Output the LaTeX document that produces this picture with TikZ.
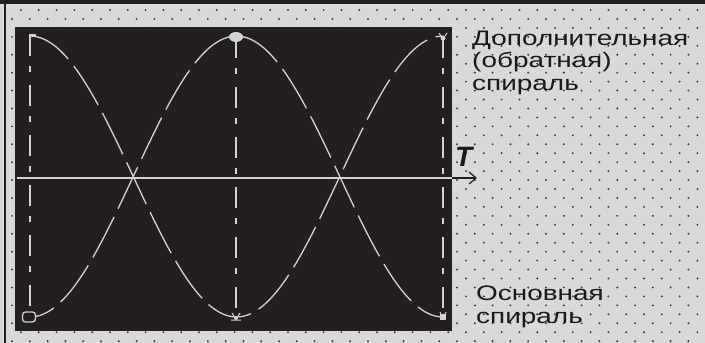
\documentclass[tikz,border=0pt]{standalone}
\usepackage{fontspec}
\setmainfont{Liberation Sans}
\newfontfamily\lblfont[FakeStretch=1.33]{Liberation Sans}
\usetikzlibrary{arrows.meta,shapes.geometric}
\definecolor{bg}{HTML}{D9D9D9}
\definecolor{scr}{HTML}{231F20}
\definecolor{ln}{HTML}{D2D2D2}
\definecolor{dotc}{HTML}{3A3A3A}
\definecolor{txt}{HTML}{1A1A1A}
\tikzset{
  guide/.style={ln, line width=1.4pt, dash pattern=on 21pt off 10pt on 6pt off 13pt},
  wave/.style={ln, line width=1.3pt, dash pattern=on 46pt off 9pt},
  lbl/.style={anchor=base west, inner sep=0pt, text=txt, font=\lblfont\fontsize{21}{23}\selectfont},
}
\begin{document}
\begin{tikzpicture}[x=1pt,y=-1pt]
\useasboundingbox (0,0) rectangle (705,343);
\fill[bg] (0,0) rectangle (705,343);
\fill[scr] (0,0) rectangle (705,4);
\fill[scr] (4,0) rectangle (6,343);
% dot grid
\foreach \r in {0,...,37}{
  \pgfmathsetmacro{\yy}{10+8.95*\r}
  \pgfmathsetmacro{\xo}{mod(\r,2)==0 ? 21 : 12}
  \foreach \k in {0,...,39}{
    \fill[dotc] ({\xo+17.8*\k},\yy) circle (1.1pt);
  }
}
% screen
\node[fill=scr, minimum width=437pt, minimum height=304pt, inner sep=0pt, anchor=north west] (screen) at (15,27) {};
% axis
\coordinate (axL) at (17,178);
\coordinate (axM) at (452,178);
\coordinate (axR) at (477,178);
\draw[ln, line width=2pt] (axL) -- (axM);
\draw[scr, line width=1.2pt, -{Straight Barb[length=7pt,width=12pt]}] (axM) -- (axR);
\node[anchor=base west, inner sep=0pt, text=txt, font=\bfseries\itshape\fontsize{28}{30}\selectfont] (T) at (455,166) {T};
% guide lines
\coordinate (g1t) at (30,35); \coordinate (g1b) at (30,317);
\coordinate (g2t) at (236,37); \coordinate (g2b) at (236,317);
\coordinate (g3t) at (443,37); \coordinate (g3b) at (443,317);
\draw[guide] (g1t) -- (g1b);
\draw[guide] (g2t) -- (g2b);
\draw[guide] (g3t) -- (g3b);
% waves
\draw[wave] plot[domain=0:1, samples=120, smooth] ({30+413*\x},{176.5-140.5*cos(360*\x)});
\draw[wave, dash phase=20pt] plot[domain=0:1, samples=120, smooth] ({30+413*\x},{176.5+140.5*cos(360*\x)});
% markers
\draw[ln, line width=1.4pt] (30,41) -- (30,35) -- (36,35);
\node[fill=ln, ellipse, minimum width=14pt, minimum height=10pt, inner sep=0pt] (mTop) at (236,37) {};
\node[draw=ln, line width=1.3pt, rounded corners=3pt, minimum width=13pt, minimum height=10pt, inner sep=0pt, fill=scr] (mStart) at (29,317) {};
\node[fill=ln, minimum width=6pt, minimum height=6pt, inner sep=0pt] (mEnd) at (443,317) {};
\draw[ln, line width=1pt] (440,312) -- (441,314) (446,312) -- (445,314);
\node[fill=ln, circle, minimum size=5pt, inner sep=0pt] (mTR) at (443,38) {};
\draw[ln, line width=1pt] (439,33) -- (441,36) (447,33) -- (445,36);
\node[fill=ln, circle, minimum size=4pt, inner sep=0pt] (mBM) at (236,318) {};
\draw[ln, line width=1pt] (232,313) -- (234,316) (240,313) -- (238,316) (231,320) -- (241,320);
% labels
\node[lbl] (l1) at (472,45) {Дополнительная};
\node[lbl] (l2) at (472,67) {(обратная)};
\node[lbl] (l3) at (472,90) {спираль};
\node[lbl] (l4) at (476,300) {Основная};
\node[lbl] (l5) at (476,323) {спираль};
\end{tikzpicture}
\end{document}
